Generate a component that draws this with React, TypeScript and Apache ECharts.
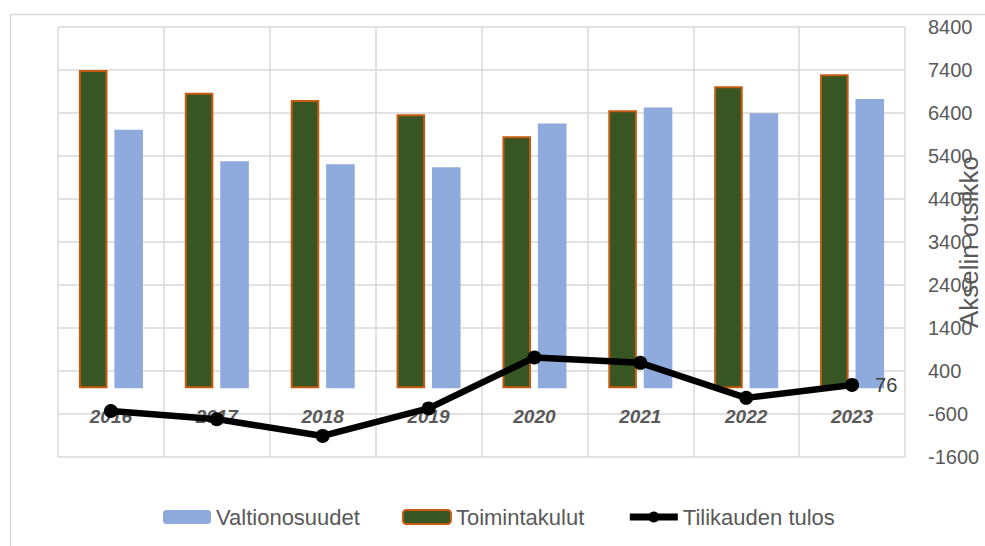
import React, { useEffect, useRef } from "react";
import * as echarts from "echarts";

const categories = ["2016", "2017", "2018", "2019", "2020", "2021", "2022", "2023"];
const valtionosuudet = [6010, 5280, 5210, 5140, 6155, 6530, 6395, 6725];
const toimintakulut = [7400, 6870, 6700, 6370, 5860, 6465, 7020, 7300];
const tilikaudenTulos = [-530, -720, -1110, -470, 715, 590, -225, 76];
const axisMin = -1600;
const axisMax = 8400;
const axisStep = 1000;

const FONT = "'Liberation Sans', Arial, sans-serif";

const GRID_TOP = 27;
const GRID_BOTTOM = 89;
const CHART_H = 546;

export default function App() {
  const ref = useRef<HTMLDivElement>(null);
  useEffect(() => {
    if (!ref.current) return;
    const chart = echarts.init(ref.current, undefined, { renderer: "svg" });
    const span = axisMax - axisMin;
    const plotH = CHART_H - GRID_TOP - GRID_BOTTOM;
    const zeroOffset = -((0 - axisMin) / span) * plotH;
    chart.setOption({
      animation: false,
      backgroundColor: "#ffffff",
      textStyle: { fontFamily: FONT },
      graphic: [
        {
          type: "rect",
          left: 8,
          top: 12,
          shape: { x: 0, y: 0, width: 1100, height: 700 },
          style: { fill: "none", stroke: "#d9d9d9", lineWidth: 1.5 },
          silent: true,
        },
      ],
      grid: {
        left: 58,
        right: 80,
        top: GRID_TOP,
        bottom: GRID_BOTTOM,
        containLabel: false,
        outerBoundsMode: "none",
      },
      legend: {
        data: [
          { name: "Valtionosuudet" },
          { name: "Toimintakulut" },
          {
            name: "Tilikauden tulos",
            lineStyle: { width: 7, color: "#000000" },
            itemStyle: { color: "#000000" },
          },
        ],
        left: 158,
        top: 501,
        itemWidth: 48,
        itemHeight: 14,
        itemGap: 42,
        textStyle: { fontSize: 22, color: "#595959", fontFamily: FONT },
      },
      xAxis: {
        type: "category",
        data: categories,
        position: "bottom",
        offset: zeroOffset,
        axisLine: { show: false, onZero: false },
        axisTick: { show: false },
        axisLabel: {
          margin: 19,
          fontSize: 19,
          fontWeight: "bold",
          fontStyle: "italic",
          color: "#595959",
          fontFamily: FONT,
        },
        splitLine: { show: true, interval: 0, lineStyle: { color: "#d9d9d9", width: 1.5 } },
      },
      yAxis: [
        {
          type: "value",
          min: axisMin,
          max: axisMax,
          axisLine: { show: false },
          axisTick: { show: false },
          axisLabel: { show: false },
          splitLine: { show: false },
        },
        {
          type: "value",
          position: "right",
          min: 0,
          max: span,
          interval: axisStep,
          name: "Akselin otsikko",
          nameLocation: "middle",
          nameRotate: 90,
          nameGap: 51,
          nameMoveOverlap: false,
          nameTextStyle: { fontSize: 26, color: "#595959", fontFamily: FONT },
          axisLine: { show: false },
          axisTick: { show: false },
          axisLabel: {
            margin: 23,
            fontSize: 20,
            color: "#595959",
            fontFamily: FONT,
            formatter: (v: number) => String(v + axisMin),
          },
          splitLine: { show: true, lineStyle: { color: "#d9d9d9", width: 1.5 } },
        },
      ],
      series: [
        {
          name: "Toimintakulut",
          type: "bar",
          yAxisIndex: 0,
          data: toimintakulut,
          barWidth: "27%",
          barGap: "24%",
          itemStyle: { color: "#375623", borderColor: "#c55a11", borderWidth: 2 },
          z: 2,
        },
        {
          name: "Valtionosuudet",
          type: "bar",
          yAxisIndex: 0,
          data: valtionosuudet,
          barWidth: "27%",
          barGap: "24%",
          itemStyle: { color: "#8faadc" },
          z: 2,
        },
        {
          name: "Tilikauden tulos",
          type: "line",
          yAxisIndex: 0,
          data: tilikaudenTulos.map((v, i) =>
            i === tilikaudenTulos.length - 1
              ? { value: v, label: { show: true } }
              : v
          ),
          symbol: "circle",
          symbolSize: 14,
          lineStyle: { color: "#000000", width: 6.5 },
          itemStyle: { color: "#000000" },
          label: {
            show: false,
            position: "right",
            distance: 16,
            fontSize: 20,
            color: "#404040",
            fontFamily: FONT,
          },
          z: 5,
        },
      ],
    });
    return () => chart.dispose();
  }, []);
  return (
    <div
      ref={ref}
      style={{ position: "fixed", left: 0, top: 0, width: 985, height: 546 }}
    />
  );
}
